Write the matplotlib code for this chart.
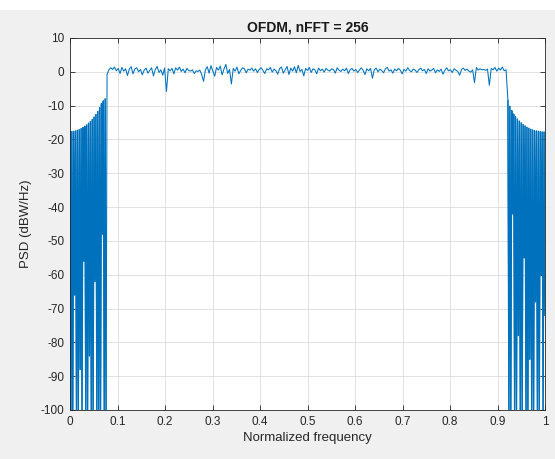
import matplotlib
matplotlib.use("Agg")
import matplotlib.pyplot as plt
import numpy as np
from matplotlib.patches import Rectangle

# PSD, three pieces: lower edge, passband, upper edge
left_psd = [
    -17.6, -100, -17.7, -100, -17.6, -66, -17.5, -100, -17.3, -100,
    -17.1, -88, -16.8, -100, -16.5, -56, -16.1, -100, -15.7, -100,
    -15.2, -84, -14.7, -100, -14.1, -100, -13.4, -62, -12.6, -100,
    -11.7, -100, -10.6, -100, -9.4, -48, -8.6, -100, -8.0, -100,
]
band_psd = [
    -0.8, 0.6, 1.2, 0.7, 1.4, 0.3, 1.0, -0.5, 1.3, 0.2, 0.9, -1.1,
    0.8, 1.5, -0.6, 0.9, 1.2, 0.0, 0.7, -0.9, 0.5, 1.1, -0.4, 0.4,
    1.2, -1.2, 0.7, 1.6, -0.2, 0.6, -1.0, 1.1, -5.8, 0.9, 0.3, 1.0,
    -0.6, 1.2, 0.5, 1.4, 0.1, 0.8, -0.3, 1.0, 0.4, 0.2, 0.6, -0.5,
    0.3, 0.1, 0.5, -0.8, -2.8, 0.6, 1.5, -0.4, 1.8, 0.2, -1.3, 1.3,
    0.5, 1.7, -0.9, 0.8, 2.2, -0.5, 0.7, -3.6, 1.0, 0.2, 1.4, -0.6,
    0.4, 1.2, 0.9, -0.3, 0.8, 0.5, 1.1, 0.2, 0.9, -0.2, 0.7, 1.2,
    0.4, -0.5, 0.9, 0.6, 1.3, -0.1, 0.8, 0.3, -0.7, 1.0, 1.4, -0.4,
    0.6, 1.6, -0.8, 1.1, 0.2, 1.5, -0.3, 1.9, 0.1, 0.7, -1.2, 1.0,
    0.4, 1.3, -0.2, 0.9, 0.6, -0.6, 1.1, 0.3, 0.8, -0.1, 1.0, 0.5,
    0.2, 0.9, 0.7, -0.4, 1.2, 0.5, 0.1, 0.8, 0.3, 1.1, -0.5, 0.6,
    1.0, 0.2, 0.7, -0.2, 0.5, 1.2, 0.4, -0.8, 0.9, 0.3, 1.0, -1.9,
    0.6, 1.1, 0.0, 0.8, 0.4, -0.3, 0.9, 1.3, 0.2, 0.6, -0.4, 0.8,
    0.3, 1.0, 0.5, -0.6, 0.7, 0.2, 1.2, 0.4, 0.0, 0.8, 0.5, -0.2,
    0.6, 1.1, 0.3, 0.7, -0.5, 0.9, 0.2, 0.5, 1.0, -0.3, 0.6, 0.1,
    0.8, -0.7, 0.4, 1.2, 0.3, 0.6, -0.2, 0.9, 0.5, 0.1, -1.0, 0.7,
    1.1, 0.4, 0.8, 0.2, -0.1, 0.6, -3.2, 1.3, 0.5, 0.9, 0.6, 0.7,
    0.4, 0.8, -4.0, 1.0, 0.6, 1.3, 0.2, 1.1, 0.5, 1.4, 0.3, 0.6,
]
right_psd = [
    -8.5, -100, -10.2, -100, -11.5, -42, -12.5, -100, -13.3, -100,
    -14.0, -78, -14.6, -100, -15.1, -100, -15.6, -55, -16.0, -100,
    -16.4, -100, -16.7, -85, -17.0, -100, -17.2, -100, -17.4, -68,
    -17.5, -100, -17.6, -100, -17.7, -60, -17.8, -100, -17.8, -72,
]
x_ticks = [0, 0.1, 0.2, 0.3, 0.4, 0.5, 0.6, 0.7, 0.8, 0.9, 1]
x_tick_labels = ["0", "0.1", "0.2", "0.3", "0.4", "0.5", "0.6", "0.7", "0.8", "0.9", "1"]
y_ticks = list(range(-100, 11, 10))

left_f = np.linspace(0.0, 0.076, len(left_psd))
band_f = np.linspace(0.078, 0.918, len(band_psd))
right_f = np.linspace(0.922, 1.0, len(right_psd))
freq = np.concatenate([left_f, band_f, right_f])
psd = np.concatenate([left_psd, band_psd, right_psd])

plt.rcParams["font.family"] = ["Liberation Sans", "DejaVu Sans"]
plt.rcParams["axes.unicode_minus"] = False

fig = plt.figure(figsize=(5.55, 4.59), dpi=100, facecolor="#f0f0f0")
fig.add_artist(Rectangle((0, 1 - 10 / 459), 1, 10 / 459, transform=fig.transFigure,
                         facecolor="white", edgecolor="none"))
ax = fig.add_axes([70 / 555, 1 - 410 / 459, 475 / 555, 372 / 459])

line_color = "#0072BD"
ax.plot(freq, psd, color=line_color, linewidth=0.75)
# the sidelobe regions look nearly solid in the reference
ax.plot(left_f, left_psd, color=line_color, linewidth=1.0)
ax.plot(right_f, right_psd, color=line_color, linewidth=1.0)

ax.set_xlim(0, 1)
ax.set_ylim(-100, 10)
ax.set_xticks(x_ticks)
ax.set_xticklabels(x_tick_labels)
ax.set_yticks(y_ticks)
ax.grid(True, color="#dcdcdc", linewidth=0.6)
ax.set_axisbelow(True)
ax.tick_params(direction="in", length=3.5, width=0.6, labelsize=8.5,
               colors="#262626", top=True, right=True, pad=4)
for s in ax.spines.values():
    s.set_color("#262626")
    s.set_linewidth(0.6)

ax.set_title("OFDM, nFFT = 256", fontsize=10, fontweight="bold", color="#1a1a1a", pad=5)
ax.set_xlabel("Normalized frequency", fontsize=9.5, color="#262626", labelpad=3)
ax.set_ylabel("PSD (dBW/Hz)", fontsize=9.5, color="#262626", labelpad=6)

fig.savefig("out.png", dpi=100, facecolor=fig.get_facecolor())
